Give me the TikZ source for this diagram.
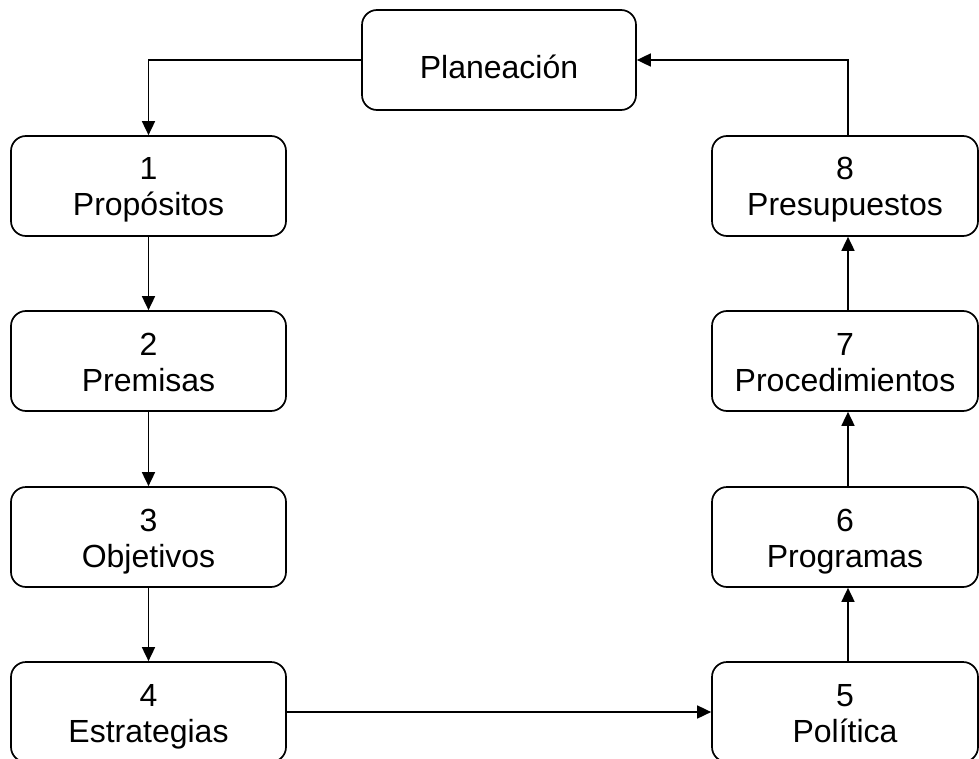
\documentclass[tikz,border=0pt]{standalone}
\usepackage{fontspec}
\setmainfont{Liberation Sans}
\usetikzlibrary{arrows.meta}
% labels hang from fixed baselines below the box centre
\newcommand{\oneline}[1]{\raisebox{-19pt}[0pt][0pt]{#1}}
\newcommand{\twoline}[2]{\raisebox{-30pt}[0pt][0pt]{%
  \begin{tabular}[b]{@{}c@{}}#1\\#2\end{tabular}}}
\begin{document}
\begin{tikzpicture}[x=1pt,y=-1pt,
  box/.style={draw,line width=1.7pt,rounded corners=15pt,
    minimum width=275pt,minimum height=100pt,align=center,
    inner sep=0pt,font=\fontsize{32}{36}\selectfont},
  rbox/.style={box,minimum width=266pt},
  link/.style={line width=1.7pt,-{Triangle[length=14pt,width=13pt]}}]
\useasboundingbox (0,0) rectangle (979,759);
% top node
\node[box,minimum width=274pt] (plan) at (499,60) {\oneline{Planeación}};
% left column
\node[box] (p1) at (148.5,186) {\twoline{1}{Propósitos}};
\node[box] (p2) at (148.5,361) {\twoline{2}{Premisas}};
\node[box] (p3) at (148.5,537) {\twoline{3}{Objetivos}};
\node[box] (p4) at (148.5,712) {\twoline{4}{Estrategias}};
% right column
\node[rbox] (p8) at (845,186) {\twoline{8}{Presupuestos}};
\node[rbox] (p7) at (845,361) {\twoline{7}{Procedimientos}};
\node[rbox] (p6) at (845,537) {\twoline{6}{Programas}};
\node[rbox] (p5) at (845,712) {\twoline{5}{Política}};
% connectors
\draw[link] (plan.west) -| (p1.north);
\draw[link] (p1) -- (p2);
\draw[link] (p2) -- (p3);
\draw[link] (p3) -- (p4);
\draw[link] (p4) -- (p5);
\draw[link] ([xshift=3pt]p5.north) -- ([xshift=3pt]p6.south);
\draw[link] ([xshift=3pt]p6.north) -- ([xshift=3pt]p7.south);
\draw[link] ([xshift=3pt]p7.north) -- ([xshift=3pt]p8.south);
\draw[link] ([xshift=3pt]p8.north) |- (plan.east);
\end{tikzpicture}
\end{document}
